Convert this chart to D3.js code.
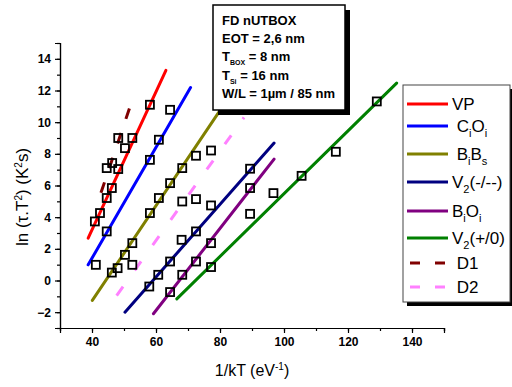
<!DOCTYPE html>
<html><head><meta charset="utf-8">
<script src="https://cdn.jsdelivr.net/npm/d3@7"></script>
<style>
html,body{margin:0;padding:0;background:#fff;}
svg{display:block;font-family:"Liberation Sans",Arial,sans-serif;}
</style></head>
<body><svg id="c" width="512" height="387"></svg>
<script>
// ---- data ----
const seriesNames = ["VP","CiOi","BiBs","V2(-/--)","BiOi","V2(+/0)","D1","D2"];
const seriesColors = ["#ff0000","#0000ff","#808000","#000080","#800080","#008000","#800000","#ff80ff"];
// fitted line endpoints [x(1/kT), y(ln)]
const vpFit   = [[38.8,2.67],[63.1,13.27]];
const ciOiFit = [[38.8,0.99],[70.8,12.19]];
const biBsFit = [[40.1,-1.26],[79.8,10.68]];
const v2mFit  = [[50.3,-2.0],[96.9,8.68]];
const biOiFit = [[59.2,-2.1],[96.9,7.67]];
const v2pFit  = [[66.5,-1.16],[135.2,12.47]];
const d1Fit   = [[42.8,5.54],[51.9,10.99]];
const d2Fit   = [[47.7,-0.95],[87.5,10.3]];
// measured points
const vpPts   = [[40.9,3.73],[42.5,4.26],[44.6,5.21],[46.2,5.84],[48.2,7.04],[50.3,8.36],[52.6,9.0],[58.1,11.1]];
const ciOiPts = [[41.2,0.99],[44.6,3.10],[58.1,7.62],[60.9,8.89],[64.4,10.78]];
const biBsPts = [[46.2,0.5],[48.0,0.78],[50.3,1.62],[52.6,2.36],[58.1,4.26],[60.9,5.21],[64.4,6.15],[68.2,7.10],[72.5,7.88]];
const v2mPts  = [[57.9,-0.38],[60.7,0.36],[64.4,1.2],[68.0,2.57],[72.5,3.10],[77.2,4.74],[89.4,7.06]];
const biOiPts = [[64.4,-0.73],[68.2,0.36],[72.5,1.2],[77.2,2.36],[89.4,5.84]];
const v2pPts  = [[77.2,0.85],[89.4,4.21],[96.7,5.52],[105.5,6.61],[116.2,8.13],[129.0,11.31]];
const d1Pts   = [[44.6,7.10],[46.3,7.42],[48.2,9.0]];
const d2Pts   = [[52.6,0.99],[68.2,4.99],[72.5,5.14],[77.2,8.21]];
const xTicks = [40,60,80,100,120,140];
const yTicks = [-2,0,2,4,6,8,10,12,14];
const infoLines = ["FD nUTBOX","EOT = 2,6 nm","T|BOX| = 8 nm","T|Si| = 16 nm","W/L = 1µm / 85 nm"];

const fits = [vpFit,ciOiFit,biBsFit,v2mFit,biOiFit,v2pFit,d1Fit,d2Fit];
const pts = [vpPts,ciOiPts,biBsPts,v2mPts,biOiPts,v2pPts,d1Pts,d2Pts];
const dashes = [null,null,null,null,null,null,"11,15","11,20"];

// ---- drawing ----
const svg = d3.select("#c");
const x = d3.scaleLinear().domain([30,150]).range([60,444]);
const y = d3.scaleLinear().domain([-3,15]).range([328,43]);

// axes
const xAxisMinor = d3.axisBottom(x).tickValues(d3.range(30,151,10)).tickSize(3).tickFormat("");
const xAxisMajor = d3.axisBottom(x).tickValues(xTicks).tickSize(5).tickPadding(4);
const yAxisMinor = d3.axisLeft(y).tickValues(d3.range(-3,16,1)).tickSize(3).tickFormat("");
const yAxisMajor = d3.axisLeft(y).tickValues(yTicks).tickSize(5).tickPadding(4);
[xAxisMinor,xAxisMajor].forEach(a=>svg.append("g").attr("transform","translate(0,328)").call(a));
[yAxisMinor,yAxisMajor].forEach(a=>svg.append("g").attr("transform","translate(60,0)").call(a));
svg.selectAll(".domain").attr("stroke","#000").attr("stroke-width",1.2);
svg.selectAll(".tick line").attr("stroke","#000").attr("stroke-width",1.2);
svg.selectAll(".tick text").attr("font-size",12).attr("font-weight","bold").attr("fill","#000")
   .attr("font-family","Liberation Sans, Arial, sans-serif");

// axis titles
svg.append("text").attr("x",252).attr("y",376).attr("text-anchor","middle").attr("font-size",16)
  .html('1/kT (eV<tspan dy="-6" font-size="10">-1</tspan><tspan dy="6">)</tspan>');
svg.append("text").attr("transform","translate(28,197) rotate(-90)").attr("text-anchor","middle").attr("font-size",17)
  .html('ln (τ.T<tspan dy="-6" font-size="10">2</tspan><tspan dy="6">) (K</tspan><tspan dy="-6" font-size="10">2</tspan><tspan dy="6">s)</tspan>');

// fit lines
const line = d3.line().x(d=>x(d[0])).y(d=>y(d[1]));
fits.forEach((f,i)=>{
  svg.append("path").attr("d",line(f)).attr("fill","none").attr("stroke",seriesColors[i])
    .attr("stroke-width",3).attr("stroke-linecap", dashes[i]?"butt":"round")
    .attr("stroke-dasharray",dashes[i]);
});

// squares
const s = 8;
pts.forEach(p=>{
  svg.append("g").selectAll("rect").data(p).join("rect")
    .attr("x",d=>x(d[0])-s/2).attr("y",d=>y(d[1])-s/2).attr("width",s).attr("height",s)
    .attr("fill","none").attr("stroke","#000").attr("stroke-width",1.8);
});

// info box
svg.append("rect").attr("x",218).attr("y",10).attr("width",132).attr("height",105).attr("fill","#000");
svg.append("rect").attr("x",213).attr("y",5).attr("width",132).attr("height",105).attr("fill","#fff").attr("stroke","#000").attr("stroke-width",1.5);
const baselines = [25,43,61,80,98];
infoLines.forEach((t,i)=>{
  const parts = t.split("|");
  const tx = svg.append("text").attr("x",222).attr("y",baselines[i]).attr("font-size",13).attr("font-weight","bold");
  if(parts.length===1){ tx.text(t); }
  else{
    tx.append("tspan").text(parts[0]);
    tx.append("tspan").attr("dy",4).attr("font-size",7).text(parts[1]);
    tx.append("tspan").attr("dy",-4).text(parts[2]);
  }
});

// legend
svg.append("rect").attr("x",407).attr("y",89).attr("width",107).attr("height",217).attr("fill","#000");
svg.append("rect").attr("x",403).attr("y",85).attr("width",107).attr("height",217).attr("fill","#fff").attr("stroke","#444").attr("stroke-width",1);
const legY = [104,126,154,182,211,238,263,287];
const legLabels = ['VP',' C<tspan dy="5" font-size="11">i</tspan><tspan dy="-5">O</tspan><tspan dy="5" font-size="11">i</tspan>',
  ' B<tspan dy="5" font-size="11">i</tspan><tspan dy="-5">B</tspan><tspan dy="5" font-size="11">s</tspan>',
  'V<tspan dy="5" font-size="11">2</tspan><tspan dy="-5">(-/--)</tspan>',
  'B<tspan dy="5" font-size="11">i</tspan><tspan dy="-5">O</tspan><tspan dy="5" font-size="11">i</tspan>',
  'V<tspan dy="5" font-size="11">2</tspan><tspan dy="-5">(+/0)</tspan>',' D1',' D2'];
seriesNames.forEach((n,i)=>{
  const ly = legY[i];
  const l = svg.append("line").attr("x1",407).attr("x2",448).attr("y1",ly).attr("y2",ly)
    .attr("stroke",seriesColors[i]).attr("stroke-width",3);
  if(dashes[i]) l.attr("x1",410).attr("x2",445).attr("stroke-dasharray","10,15");
  svg.append("text").attr("x",452).attr("y",ly+6).attr("font-size",17).attr("xml:space","preserve")
    .style("white-space","pre").html(legLabels[i]);
});
</script></body></html>
